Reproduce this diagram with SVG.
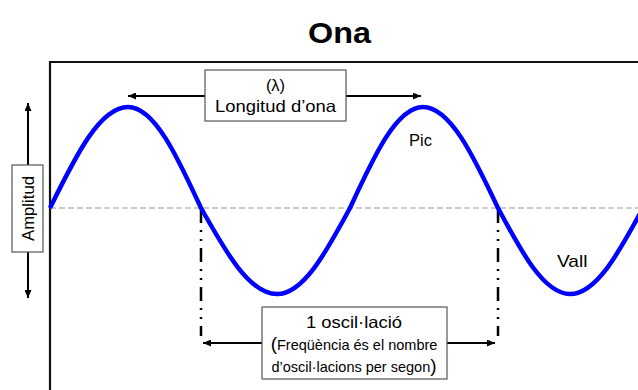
<svg xmlns="http://www.w3.org/2000/svg" width="638" height="390" viewBox="0 0 638 390">
<defs>
<marker id="ah" viewBox="0 0 8 7" markerWidth="8" markerHeight="7" refX="8" refY="3.5" orient="auto-start-reverse" markerUnits="userSpaceOnUse">
<path d="M0,0 L8,3.5 L0,7 z" fill="#000"/>
</marker>
</defs>
<style>
text{font-family:"Liberation Sans",Arial,sans-serif;fill:#000}
.box{fill:#fff;stroke:#555;stroke-width:1.2}
.arr{stroke:#000;stroke-width:2;fill:none;marker-start:url(#ah);marker-end:url(#ah)}
.dd{stroke:#000;stroke-width:2.5;fill:none;stroke-dasharray:14 7 2 7 2 7}
.lbl{font-size:16.5px}
</style>
<rect width="638" height="390" fill="#fff"/>
<g id="title"><text x="339.5" y="43" text-anchor="middle" font-size="30" font-weight="bold" textLength="63" lengthAdjust="spacingAndGlyphs">Ona</text></g>
<g id="frame" stroke="#111" stroke-width="2.2" fill="none">
<path d="M50,390 V62 H638"/>
</g>
<g id="connectors">
<line x1="50" y1="208" x2="638" y2="208" stroke="#999" stroke-width="1.2" stroke-dasharray="6 3"/>
<line class="dd" x1="201" y1="209" x2="201" y2="336"/>
<line class="dd" x1="498" y1="209" x2="498" y2="336"/>
<line class="arr" x1="28" y1="103" x2="28" y2="298"/>
<line class="arr" x1="128" y1="96" x2="421" y2="96"/>
<line class="arr" x1="203" y1="343" x2="495" y2="343"/>
</g>
<g id="wave">
<path d="M50,208 C75.4,156.3 99.8,107 128,107 C154.4,107 177.2,156.3 201,208 C225.8,252.1 249.5,294 277,294 C303.4,294 326.2,252.1 350,208 C373.8,156.3 396.6,107 423,107 C450.2,107 473.6,156.3 498,208 C521.5,252.1 543.9,294 570,294 C596.4,294 619.2,252.1 643,208" fill="none" stroke="#0000ff" stroke-width="4.5"/>
</g>
<g id="amplitud">
<rect class="box" x="12" y="165" width="31" height="87"/>
<text class="lbl" transform="translate(34,208.5) rotate(-90)" text-anchor="middle" textLength="65" lengthAdjust="spacingAndGlyphs">Amplitud</text>
</g>
<g id="longitud">
<rect class="box" x="205" y="70" width="141" height="51"/>
<text class="lbl" x="275.5" y="91" text-anchor="middle">(λ)</text>
<text class="lbl" x="275.5" y="112" text-anchor="middle" textLength="121" lengthAdjust="spacingAndGlyphs">Longitud d’ona</text>
</g>
<g id="oscillacio">
<rect class="box" x="262" y="307" width="185" height="72"/>
<text class="lbl" x="354" y="328" text-anchor="middle" textLength="96" lengthAdjust="spacingAndGlyphs">1 oscil·lació</text>
<text x="354" y="350" text-anchor="middle" font-size="14.5"><tspan font-size="19">(</tspan>Freqüència és el nombre</text>
<text x="354" y="372" text-anchor="middle" font-size="14.5">d’oscil·lacions per segon<tspan font-size="19">)</tspan></text>
</g>
<g id="pic"><text class="lbl" x="409" y="146">Pic</text></g>
<g id="vall"><text x="557" y="267" font-size="17" textLength="30.5" lengthAdjust="spacingAndGlyphs">Vall</text></g>
</svg>
